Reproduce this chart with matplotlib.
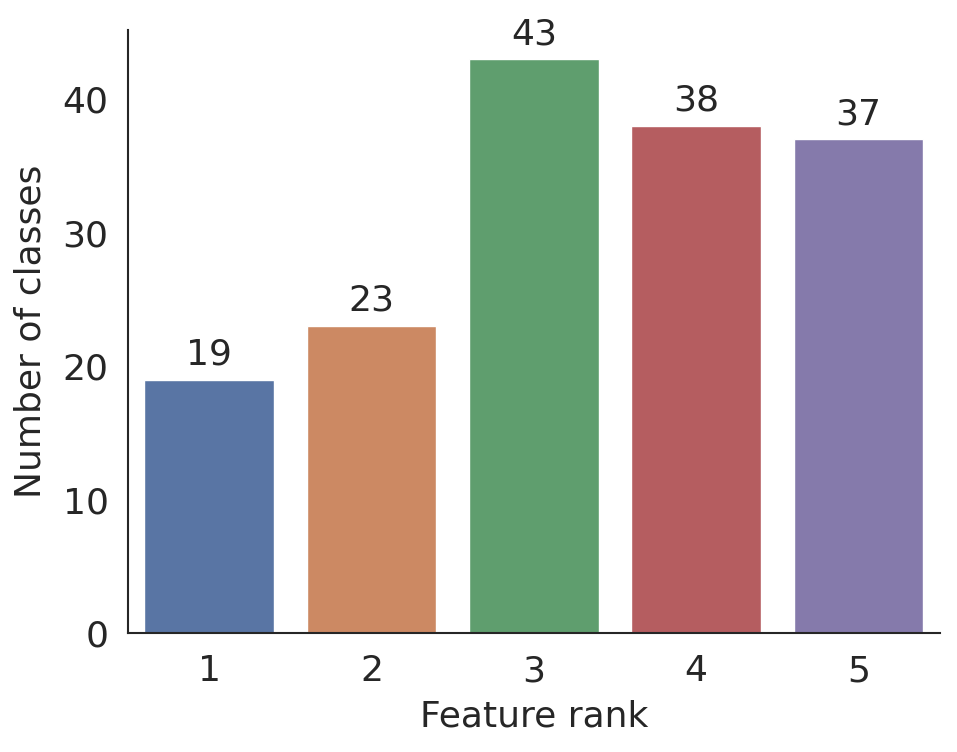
import matplotlib
matplotlib.use("Agg")
import matplotlib.pyplot as plt
import seaborn as sns

ranks = ["1", "2", "3", "4", "5"]
counts = [19, 23, 43, 38, 37]

sns.set_theme(style="white", font_scale=1.0)
plt.rcParams['font.family'] = ['DejaVu Sans']

fs = 26
fig = plt.figure(figsize=(9.57, 7.52), dpi=100)
ax = fig.add_axes([0.1338, 0.158, 0.848, 0.802])
sns.barplot(x=ranks, y=counts, hue=ranks, palette="deep", legend=False, ax=ax)
for c in ax.containers:
    ax.bar_label(c, fontsize=fs, padding=6, color="#262626")
ax.set_xlim(-0.5, 4.5)
ax.set_ylim(0, 45.2)
ax.set_yticks([0, 10, 20, 30, 40])
ax.tick_params(axis="x", labelsize=fs, colors="#262626", pad=9)
ax.tick_params(axis="y", labelsize=fs, colors="#262626", pad=8)
ax.set_xlabel("Feature rank", fontsize=fs, color="#262626", labelpad=8)
ax.set_ylabel("Number of classes", fontsize=fs, color="#262626", labelpad=11)
sns.despine(ax=ax)
for s in ["left", "bottom"]:
    ax.spines[s].set_color("#262626")
    ax.spines[s].set_linewidth(1.5)
fig.savefig("out.png", dpi=100)
